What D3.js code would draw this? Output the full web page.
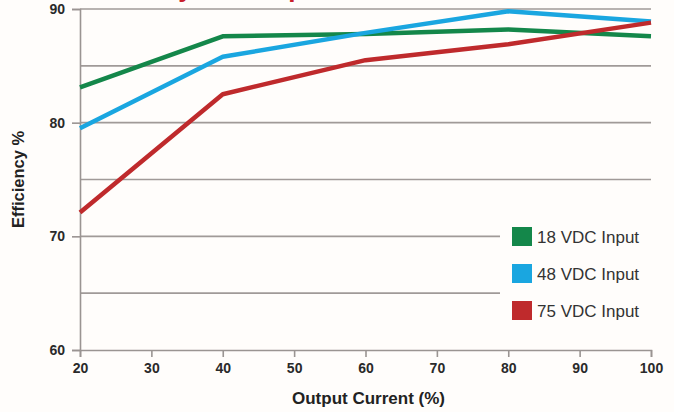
<!DOCTYPE html>
<html>
<head>
<meta charset="utf-8">
<script src="https://cdn.jsdelivr.net/npm/d3@7"></script>
<style>
  html, body { margin: 0; padding: 0; background: #fffdfb; }
  text { font-family: "Liberation Sans", Arial, sans-serif; }
</style>
</head>
<body>
<div id="chart"></div>
<script>
const current = [20, 40, 60, 80, 100];
const eff18 = [83.1, 87.6, 87.8, 88.2, 87.6];
const eff48 = [79.5, 85.8, 87.9, 89.8, 88.9];
const eff75 = [72.1, 82.5, 85.5, 86.9, 88.8];
const seriesNames = ["18 VDC Input", "48 VDC Input", "75 VDC Input"];
const seriesColors = ["#14874a", "#1aa6e0", "#bf2a2c"];
const xTicks = [20, 30, 40, 50, 60, 70, 80, 90, 100];
const yTicks = [60, 70, 80, 90];
const yGrid = [65, 70, 75, 80, 85, 90];

const width = 674, height = 412;
const margin = {top: 9, right: 23, bottom: 62, left: 80};

const data = [eff18, eff48, eff75].map((vals, i) => ({
  label: seriesNames[i],
  color: seriesColors[i],
  values: current.map((c, j) => ({x: c, y: vals[j]}))
}));

const x = d3.scaleLinear().domain([20, 100]).range([margin.left, width - margin.right]);
const y = d3.scaleLinear().domain([60, 90]).range([height - margin.bottom, margin.top]);

const svg = d3.select("#chart").append("svg")
  .attr("width", width).attr("height", height);

// title, cut off at the top edge as in the source image
svg.append("text")
  .attr("x", 70).attr("y", -3)
  .attr("fill", "#c8202a")
  .attr("font-weight", "bold")
  .attr("font-size", 26)
  .text("Efficiency vs. Output Current");

// horizontal grid
svg.append("g").selectAll("line").data(yGrid).enter().append("line")
  .attr("x1", x(20)).attr("x2", x(100))
  .attr("y1", d => y(d)).attr("y2", d => y(d))
  .attr("stroke", "#a09a98").attr("stroke-width", 1.6);

const styleAxis = (g) => {
  g.select(".domain").attr("stroke", "#9a9492").attr("stroke-width", 1.6);
  g.selectAll(".tick line").attr("stroke", "#9a9492").attr("stroke-width", 1.6);
  g.selectAll(".tick text")
    .attr("font-size", 14).attr("font-weight", "bold").attr("fill", "#2a2a2a")
    .attr("font-family", "'Liberation Sans', Arial, sans-serif");
};

// y axis
svg.append("g")
  .attr("transform", `translate(${margin.left},0)`)
  .call(d3.axisLeft(y).tickValues(yTicks).tickSize(8).tickPadding(7))
  .call(styleAxis);

// x axis
svg.append("g")
  .attr("transform", `translate(0,${y(60)})`)
  .call(d3.axisBottom(x).tickValues(xTicks).tickSize(7).tickPadding(6))
  .call(styleAxis);

// axis titles
svg.append("text")
  .attr("x", x(60) + 3).attr("y", 404)
  .attr("text-anchor", "middle")
  .attr("font-size", 17).attr("font-weight", "bold").attr("fill", "#222")
  .text("Output Current (%)");
svg.append("text")
  .attr("transform", `translate(24,${y(75)}) rotate(-90)`)
  .attr("text-anchor", "middle")
  .attr("font-size", 16.5).attr("font-weight", "bold").attr("fill", "#222")
  .text("Efficiency %");

// lines
const line = d3.line().x(d => x(d.x)).y(d => y(d.y));
svg.append("g").selectAll("path").data(data).enter().append("path")
  .attr("d", d => line(d.values))
  .attr("fill", "none")
  .attr("stroke", d => d.color)
  .attr("stroke-width", 4.5)
  .attr("stroke-linejoin", "round");

// legend
const legend = svg.append("g").attr("transform", "translate(500,218)");
legend.append("rect")
  .attr("width", 160).attr("height", 108)
  .attr("fill", "#fffdfb");
const item = legend.selectAll(".item").data(data).enter().append("g")
  .attr("class", "item")
  .attr("transform", (d, i) => `translate(12,${9 + i * 37})`);
item.append("rect")
  .attr("width", 20).attr("height", 19)
  .attr("fill", d => d.color);
item.append("text")
  .attr("x", 25).attr("y", 16)
  .attr("font-size", 17).attr("fill", "#333")
  .text(d => d.label);
</script>
</body>
</html>
